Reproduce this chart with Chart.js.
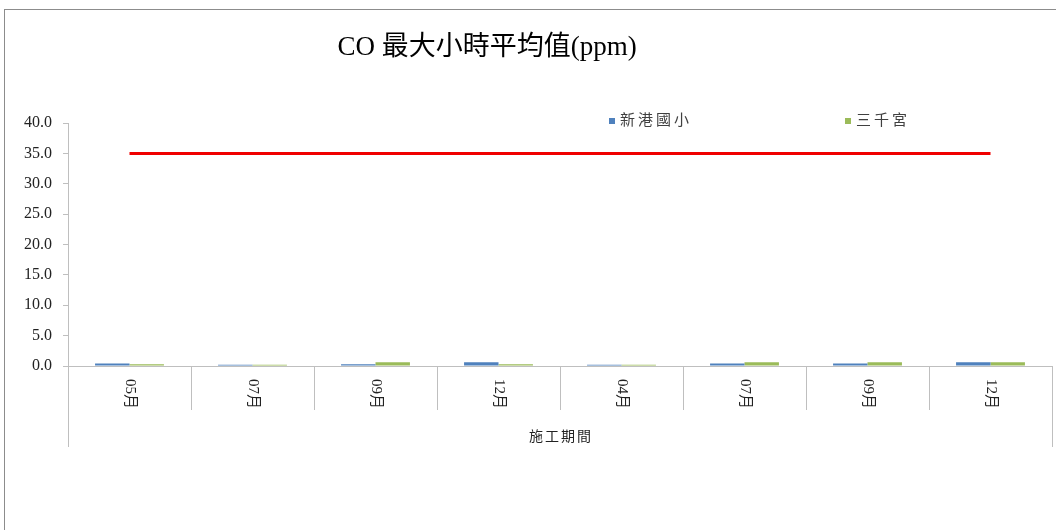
<!DOCTYPE html>
<html>
<head>
<meta charset="utf-8">
<script src="https://cdn.jsdelivr.net/npm/chart.js@4"></script>
<style>
  html, body { margin: 0; padding: 0; background: #fff; }
  #wrap { width: 1056px; height: 530px; position: relative; }
</style>
</head>
<body>
<div id="wrap"><canvas id="coChart" width="1056" height="530"></canvas></div>
<script>
const months = ['05月', '07月', '09月', '12月', '04月', '07月', '09月', '12月'];
const xinGang = [0.4, 0.2, 0.3, 0.6, 0.2, 0.4, 0.4, 0.6];
const sanQian = [0.3, 0.2, 0.6, 0.3, 0.2, 0.6, 0.6, 0.6];
const standard = [35, 35, 35, 35, 35, 35, 35, 35];
const yTicks = [0, 5, 10, 15, 20, 25, 30, 35, 40];
const chartTitle = 'CO 最大小時平均值(ppm)';

const serif = "'Liberation Serif', 'Noto Sans CJK TC', serif";

// frame, title, rotated month labels, category dividers, axis title and legend
const decor = {
  id: 'decor',
  beforeDraw(chart) {
    const c = chart.ctx;
    c.save();
    c.strokeStyle = '#8c8c8c';
    c.lineWidth = 1;
    c.strokeRect(4.5, 9.5, 1100, 600);
    c.restore();
  },
  afterDraw(chart) {
    const c = chart.ctx;
    const x = chart.scales.x;
    const area = chart.chartArea;
    c.save();
    // title
    c.fillStyle = '#000';
    c.font = '27px ' + serif;
    c.textAlign = 'center';
    c.textBaseline = 'middle';
    c.fillText(chartTitle, 487, 48);
    // dividers between months
    c.strokeStyle = '#bfbfbf';
    c.lineWidth = 1;
    for (let i = 0; i <= months.length; i++) {
      let px;
      if (i === 0) px = area.left;
      else if (i === months.length) px = area.right;
      else px = (x.getPixelForValue(i - 1) + x.getPixelForValue(i)) / 2;
      const outer = (i === 0 || i === months.length);
      c.beginPath();
      c.moveTo(Math.round(px) + 0.5, area.bottom);
      c.lineTo(Math.round(px) + 0.5, area.bottom + (outer ? 81 : 44));
      c.stroke();
    }
    // month labels, turned clockwise
    c.fillStyle = '#222';
    c.font = '15px ' + serif;
    months.forEach((m, i) => {
      c.save();
      c.translate(x.getPixelForValue(i), area.bottom + 28);
      c.rotate(Math.PI / 2);
      c.fillText(m, 0, 0);
      c.restore();
    });
    // axis title
    c.font = '14px ' + serif;
    c.letterSpacing = '2px';
    c.fillText('施工期間', (area.left + area.right) / 2 + 1, area.bottom + 71);
    // legend
    const items = [
      { label: chart.data.datasets[0].label, color: chart.data.datasets[0].backgroundColor, x: 609 },
      { label: chart.data.datasets[1].label, color: chart.data.datasets[1].backgroundColor, x: 845 }
    ];
    c.textAlign = 'left';
    c.font = '15px ' + serif;
    c.letterSpacing = '3px';
    items.forEach(it => {
      c.fillStyle = it.color;
      c.fillRect(it.x, 118, 6, 6);
      c.fillStyle = '#404040';
      c.fillText(it.label, it.x + 11, 121);
    });
    c.restore();
  }
};

new Chart(document.getElementById('coChart'), {
  data: {
    labels: months,
    datasets: [
      { type: 'bar', label: '新港國小', data: xinGang, backgroundColor: '#4F81BD',
        categoryPercentage: 0.56, barPercentage: 1, order: 2 },
      { type: 'bar', label: '三千宮', data: sanQian, backgroundColor: '#9BBB59',
        categoryPercentage: 0.56, barPercentage: 1, order: 2 },
      { type: 'line', label: '標準', data: standard, borderColor: '#F00000', borderWidth: 3,
        pointRadius: 0, fill: false, order: 1 }
    ]
  },
  options: {
    responsive: false,
    animation: false,
    layout: { padding: { left: 0, right: 4, top: 123, bottom: 0 } },
    plugins: {
      legend: { display: false },
      tooltip: { enabled: false },
      title: { display: false }
    },
    scales: {
      x: {
        offset: true,
        grid: { display: false },
        border: { color: '#bfbfbf' },
        ticks: { display: false },
        afterFit(s) { s.height = 164; }
      },
      y: {
        min: 0,
        max: 40,
        afterBuildTicks(s) { s.ticks = yTicks.map(v => ({ value: v })); },
        grid: { drawOnChartArea: false, tickLength: 5, color: '#bfbfbf' },
        border: { color: '#bfbfbf' },
        ticks: {
          padding: 11,
          color: '#222',
          font: { family: serif, size: 16 },
          callback: v => v.toFixed(1)
        },
        afterFit(s) { s.width = 68; }
      }
    }
  },
  plugins: [decor]
});
</script>
</body>
</html>
